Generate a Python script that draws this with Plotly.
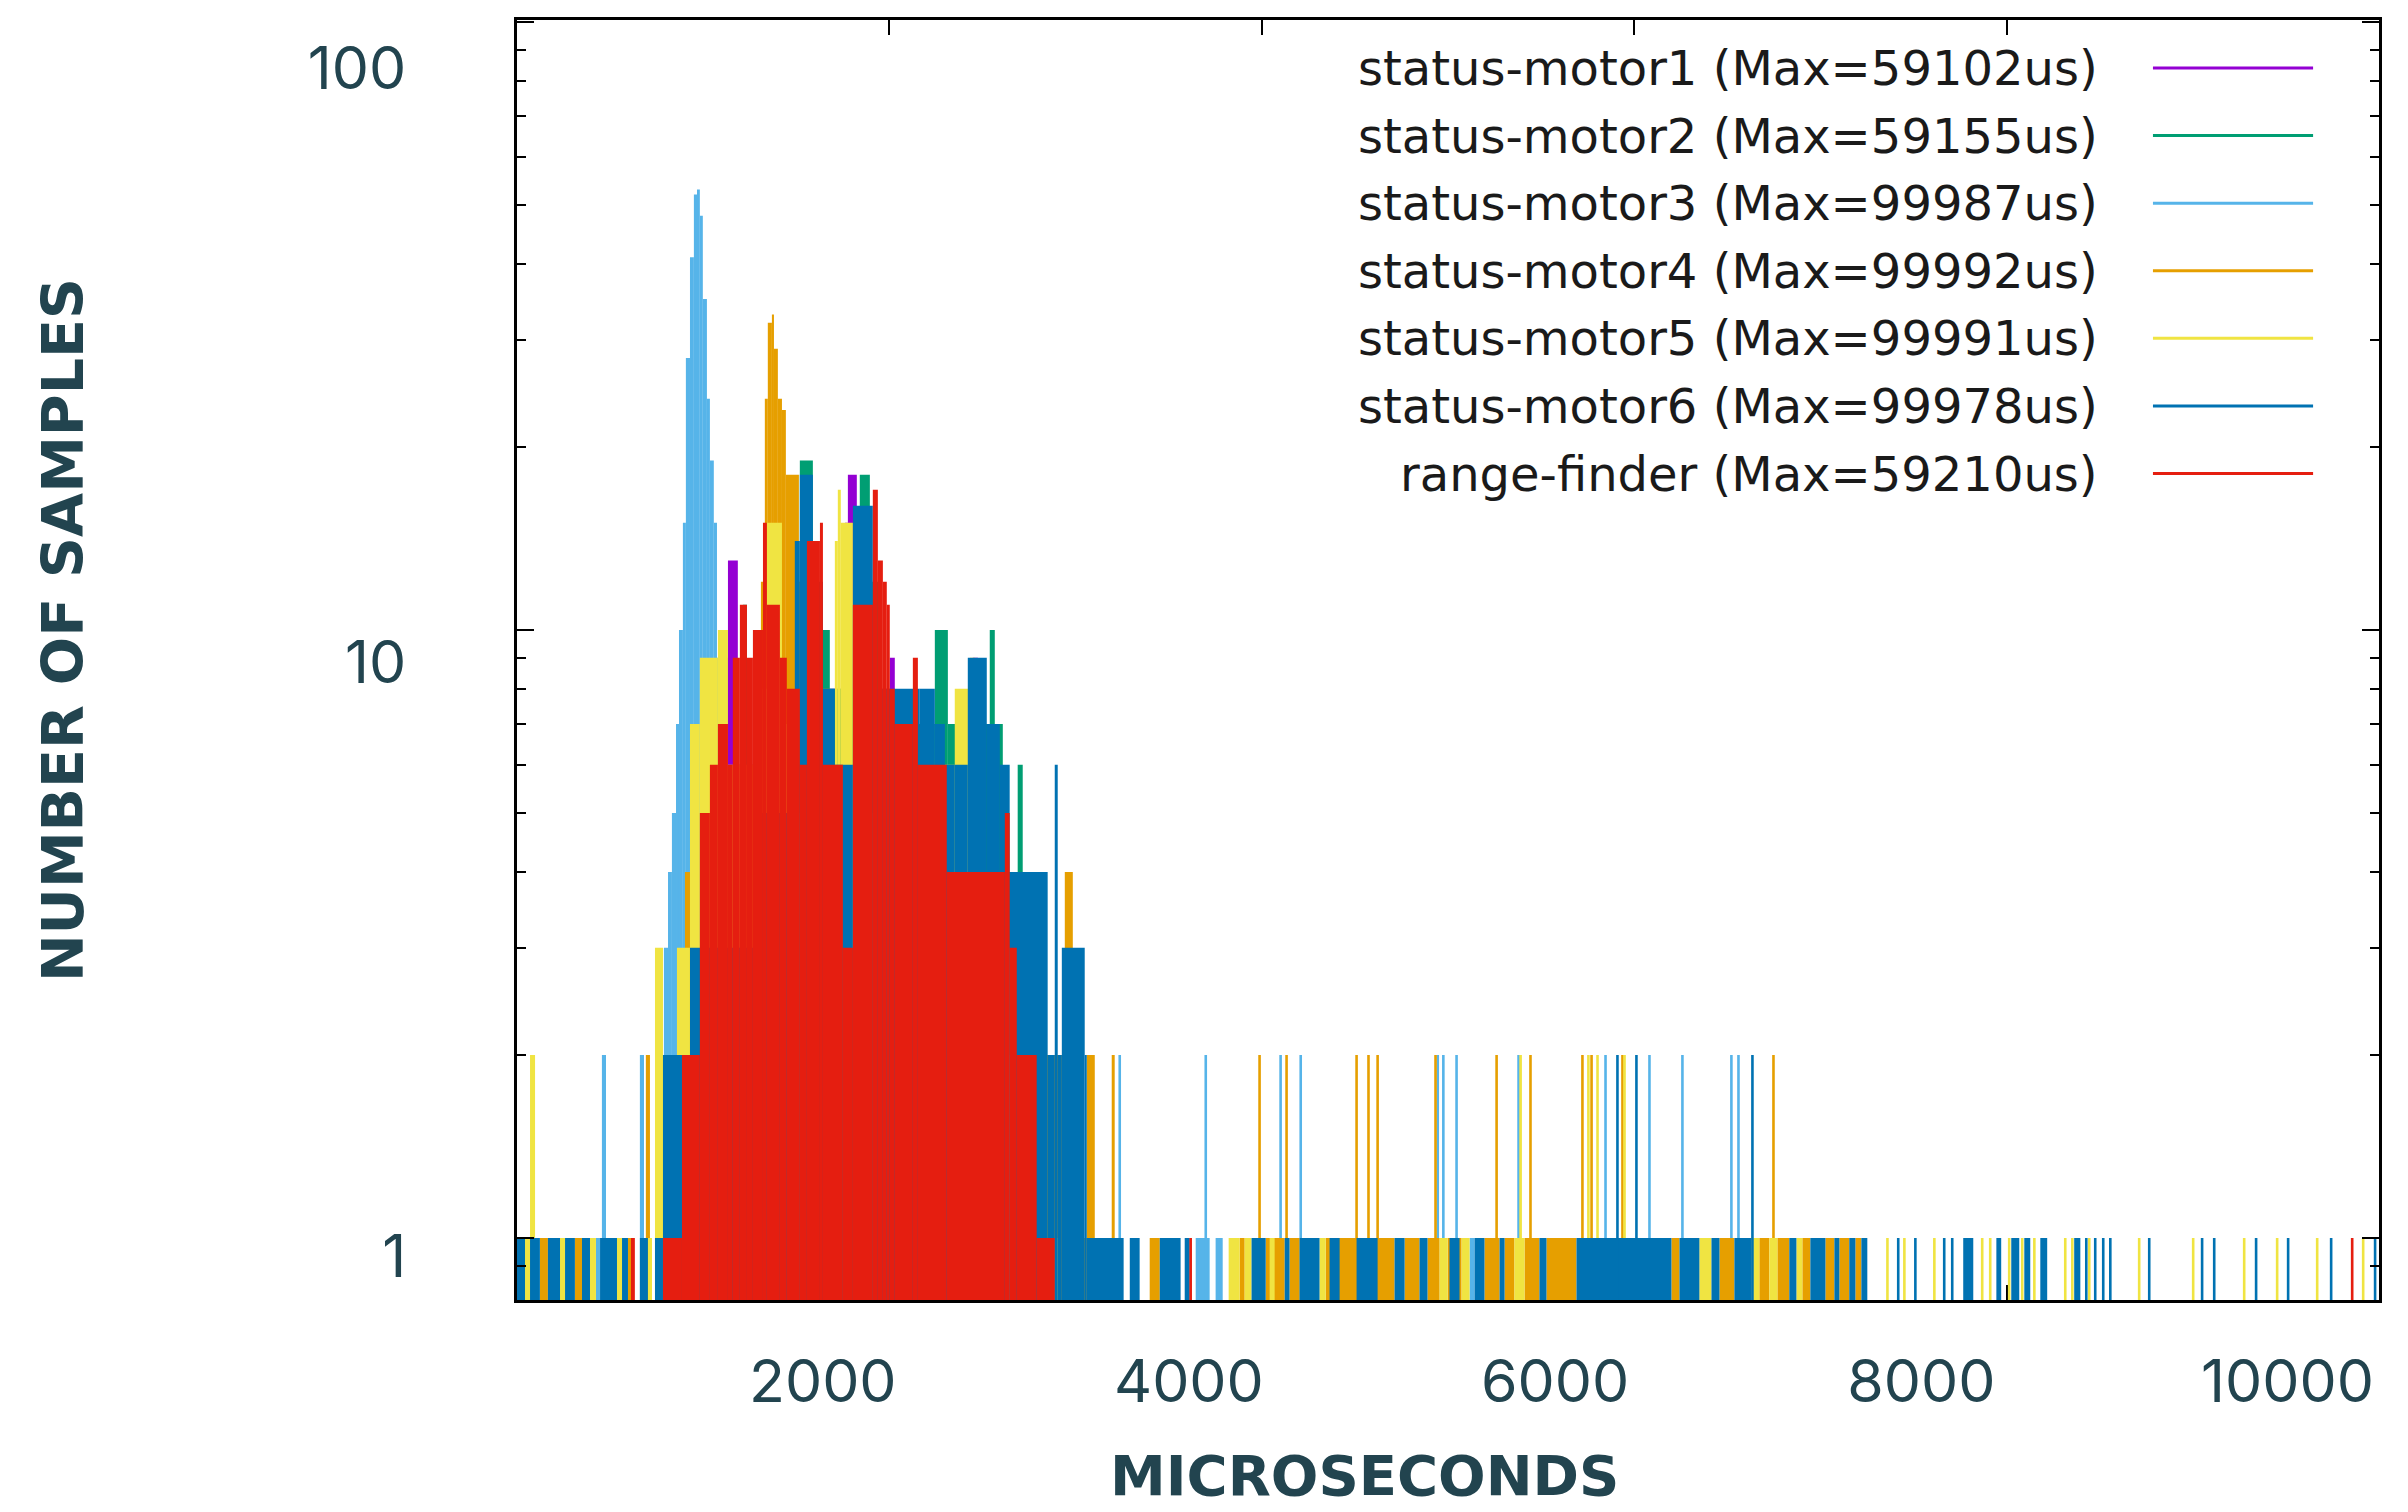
import plotly.graph_objects as go

# ---------------- series names / colours ----------------
series_names = [
    "status-motor1 (Max=59102us)",
    "status-motor2 (Max=59155us)",
    "status-motor3 (Max=99987us)",
    "status-motor4 (Max=99992us)",
    "status-motor5 (Max=99991us)",
    "status-motor6 (Max=99978us)",
    "range-finder (Max=59210us)",
]
series_colors = ["#9400d3", "#009e73", "#56b4e9", "#e69f00", "#f0e442", "#0072b2", "#e51e10"]

# ---------------- histogram data (bin start us, bin end us, count) ----------------
m1_lo = [1090, 1133, 1186, 1519, 1761, 1777, 1825, 2002, 2029, 2448, 2475, 2700]
m1_hi = [1133, 1186, 1519, 1761, 1777, 1825, 2002, 2029, 2378, 2475, 2700, 2807]
m1_n = [9, 13, 6, 8, 15, 18, 8, 9, 5, 9, 3, 1]

m2_lo = [1213, 1235, 1519, 1589, 1680, 1841, 1895, 1949, 2244, 2314, 2539, 2566, 2609, 2689, 2716, 2807]
m2_hi = [1235, 1519, 1589, 1680, 1841, 1895, 1949, 2244, 2314, 2539, 2566, 2609, 2689, 2716, 2807, 3022]
m2_n = [11, 6, 19, 10, 8, 18, 12, 7, 10, 7, 10, 7, 4, 6, 2, 1]

m3_lo = [424, 456, 660, 768, 789, 811, 832, 854, 870, 891, 907, 929, 950, 972, 982, 998, 1020, 1036,
         1057, 1074, 1117, 1197, 1304, 1519, 3645, 3752, 5116]
m3_hi = [446, 478, 682, 789, 811, 832, 854, 870, 891, 907, 929, 950, 972, 982, 998, 1020, 1036, 1057,
         1074, 1117, 1197, 1304, 1519, 1788, 3720, 3790, 5143]
m3_n = [1, 2, 2, 2, 3, 4, 5, 7, 10, 15, 28, 41, 52, 53, 48, 35, 24, 19, 15, 9, 5, 3, 2, 1, 1, 1, 1]
m3_spike_x = [3237, 3699, 4101, 4209, 4945, 4975, 5046, 5379, 5846, 6082, 6259, 6522, 6560]
m3_spike_n = [2, 2, 2, 2, 2, 2, 2, 2, 2, 2, 2, 2, 2]

m4_lo = [123, 311, 596, 692, 902, 929, 1224, 1278, 1310, 1331, 1347, 1369, 1380, 1401, 1423, 1444, 1514,
         1573, 1680, 1895, 2163, 2539, 2807, 2942, 2985, 3060, 3103, 3194, 3398, 3881, 4021, 4149, 4343,
         4622, 4767, 4890, 4998, 5196, 5304, 5411, 5529, 6200, 6458, 6672, 6769, 6903, 7027, 7102, 7188]
m4_hi = [166, 349, 628, 714, 929, 1224, 1278, 1310, 1331, 1347, 1369, 1380, 1401, 1423, 1444, 1514, 1573,
         1680, 1895, 2163, 2539, 2807, 2942, 2985, 3060, 3103, 3194, 3210, 3452, 3908, 4123, 4203, 4509,
         4713, 4847, 4955, 5073, 5277, 5357, 5491, 5690, 6243, 6538, 6726, 6833, 6946, 7075, 7155, 7220]
m4_n = [1, 1, 1, 2, 4, 3, 5, 6, 12, 24, 32, 33, 29, 24, 23, 18, 12, 8, 6, 5, 4, 3, 2, 4, 1, 2, 1, 2,
        1, 1, 1, 1, 1, 1, 1, 1, 1, 1, 1, 1, 1, 1, 1, 1, 1, 1, 1, 1, 1]
m4_spike_x = [3988, 4133, 4509, 4573, 4622, 4933, 5261, 5443, 5722, 5771, 5937, 6748]
m4_spike_n = [2, 2, 2, 2, 2, 2, 2, 2, 2, 2, 2, 2]

m5_lo = [43, 70, 231, 392, 537, 703, 741, 784, 859, 929, 982, 1079, 1133, 1304, 1342, 1423, 1449, 1707,
         1723, 1739, 1804, 2298, 2351, 2432, 2459, 2593, 2807, 3822, 3908, 4042, 4310, 4955, 5073, 5357,
         6350, 6629, 6726, 6871]
m5_hi = [70, 97, 258, 424, 564, 725, 784, 859, 929, 982, 1079, 1133, 1304, 1342, 1423, 1449, 1707, 1723,
         1739, 1804, 2298, 2351, 2432, 2459, 2593, 2807, 2915, 3881, 3945, 4069, 4343, 4998, 5116, 5411,
         6415, 6672, 6769, 6903]
m5_n = [1, 2, 1, 1, 1, 1, 3, 2, 3, 7, 9, 10, 6, 8, 15, 7, 5, 14, 17, 15, 5, 6, 8, 9, 4, 2, 1, 1, 1, 1,
        1, 1, 1, 1, 1, 1, 1, 1]
m5_spike_x = [5390, 5754, 5803, 5948, 7360, 7451, 7612, 7869, 7912, 8014, 8084, 8149, 8315, 8353, 8444,
              8712, 9002, 9276, 9453, 9668, 9915]
m5_spike_n = [2, 2, 2, 2, 1, 1, 1, 1, 1, 1, 1, 1, 1, 1, 1, 1, 1, 1, 1, 1, 1]

m6_lo = [0, 70, 166, 258, 349, 446, 564, 660, 741, 784, 929, 1304, 1492, 1519, 1589, 1643, 1707, 1750,
         1804, 1911, 2163, 2244, 2298, 2351, 2421, 2523, 2593, 2646, 2850, 2888, 2904, 2926, 3049, 3060,
         3291, 3452, 3586, 3945, 4123, 4203, 4364, 4509, 4713, 4847, 5008, 5143, 5277, 5491, 5690, 6243,
         6415, 6538, 6833, 6946, 7075, 7155, 7220, 7767, 7945, 8025, 8095, 8181, 8363]
m6_hi = [43, 123, 231, 311, 392, 537, 596, 703, 784, 929, 1304, 1492, 1519, 1589, 1643, 1707, 1750, 1804,
         1911, 2163, 2244, 2298, 2351, 2421, 2523, 2593, 2646, 2850, 2888, 2904, 2926, 3049, 3060, 3258,
         3344, 3564, 3613, 4021, 4149, 4310, 4418, 4622, 4767, 4890, 5062, 5196, 5304, 5529, 6200, 6350,
         6458, 6629, 6871, 7027, 7102, 7188, 7252, 7821, 7971, 8068, 8127, 8218, 8396]
m6_n = [1, 1, 1, 1, 1, 1, 1, 1, 1, 2, 3, 5, 14, 18, 12, 8, 6, 6, 16, 8, 8, 7, 6, 6, 9, 7, 6, 4, 2, 6,
        2, 3, 2, 1, 1, 1, 1, 1, 1, 1, 1, 1, 1, 1, 1, 1, 1, 1, 1, 1, 1, 1, 1, 1, 1, 1, 1, 1, 1, 1, 1, 1, 1]
m6_spike_x = [5910, 6012, 6635, 7418, 7510, 7665, 7708, 8428, 8476, 8519, 8557, 8766, 9050, 9115, 9340,
              9512, 9743, 9979]
m6_spike_n = [2, 2, 2, 1, 1, 1, 1, 1, 1, 1, 1, 1, 1, 1, 1, 1, 1, 1]

rf_lo = [612, 784, 886, 982, 1036, 1079, 1133, 1159, 1197, 1235, 1267, 1321, 1342, 1412, 1449, 1519, 1557,
         1627, 1643, 1750, 1804, 1911, 1938, 1965, 1986, 2002, 2029, 2126, 2153, 2308, 2620, 2646, 2684, 2791]
rf_hi = [633, 886, 982, 1036, 1079, 1133, 1159, 1197, 1235, 1267, 1321, 1342, 1412, 1449, 1519, 1557, 1627,
         1643, 1750, 1804, 1911, 1938, 1965, 1986, 2002, 2029, 2126, 2153, 2308, 2620, 2646, 2684, 2791, 2888]
rf_n = [1, 1, 2, 5, 6, 7, 6, 9, 11, 9, 10, 15, 11, 9, 8, 6, 14, 15, 6, 3, 11, 17, 13, 12, 11, 8, 7, 9, 6,
        4, 5, 3, 2, 1]
rf_spike_x = [3618, 9856]
rf_spike_n = [1, 1]

# ---------------- axis tick values / labels ----------------
x_tick_vals = [2000, 4000, 6000, 8000, 10000]
x_tick_text = ["2000", "4000", "6000", "8000", "10000"]
y_tick_vals = [1, 10, 100]
y_tick_text = ["1", "10", "100"]
y_minor_vals = [0.9, 2, 3, 4, 5, 6, 7, 8, 9, 20, 30, 40, 50, 60, 70, 80, 90]

SPIKE_W = 14
LABEL_COLOR = "#22444f"

series = [
    (m1_lo, m1_hi, m1_n, None, None),
    (m2_lo, m2_hi, m2_n, None, None),
    (m3_lo, m3_hi, m3_n, m3_spike_x, m3_spike_n),
    (m4_lo, m4_hi, m4_n, m4_spike_x, m4_spike_n),
    (m5_lo, m5_hi, m5_n, m5_spike_x, m5_spike_n),
    (m6_lo, m6_hi, m6_n, m6_spike_x, m6_spike_n),
    (rf_lo, rf_hi, rf_n, rf_spike_x, rf_spike_n),
]

fig = go.Figure()
for i, (lo, hi, n, sx, sn) in enumerate(series):
    fig.add_trace(go.Bar(
        x=lo, y=n, width=[h - l for l, h in zip(lo, hi)], offset=0,
        marker=dict(color=series_colors[i], line=dict(width=0)),
        name=series_names[i], showlegend=False, hoverinfo="skip"))
    if sx:
        fig.add_trace(go.Bar(
            x=sx, y=sn, width=SPIKE_W,
            marker=dict(color=series_colors[i], line=dict(width=0)),
            name=series_names[i], showlegend=False, hoverinfo="skip"))

# empty trace so the label-only overlay axes are created
fig.add_trace(go.Scatter(x=[None], y=[None], xaxis="x2", yaxis="y2",
                         showlegend=False, hoverinfo="skip", mode="markers"))

fig.update_layout(
    width=2408, height=1512,
    margin=dict(l=517, r=29, t=20, b=212),
    paper_bgcolor="white", plot_bgcolor="white",
    barmode="overlay", showlegend=False,
    xaxis=dict(range=[0, 10000], tickvals=x_tick_vals[:-1], ticks="inside", ticklen=15, tickwidth=2,
               tickcolor="black", showticklabels=False, showline=True, linewidth=3, linecolor="black",
               mirror="ticks", showgrid=False, zeroline=False, layer="below traces", fixedrange=True),
    yaxis=dict(type="log", range=[-0.102, 2.003], tickvals=y_tick_vals, ticks="inside", ticklen=17,
               tickwidth=2, tickcolor="black", showticklabels=False, showline=True, linewidth=3,
               linecolor="black", mirror="ticks", showgrid=False, zeroline=False,
               minor=dict(tickvals=y_minor_vals, ticks="inside", ticklen=9, tickwidth=2, tickcolor="black")),
    xaxis2=dict(overlaying="x", anchor="y2", side="bottom", range=[330, 10500],
                tickvals=x_tick_vals, ticktext=x_tick_text, ticks="outside", ticklen=30,
                tickcolor="rgba(0,0,0,0)", showline=False, showgrid=False, zeroline=False,
                tickfont=dict(family="Inter", size=59, color=LABEL_COLOR)),
    yaxis2=dict(overlaying="y", anchor="x2", side="left", type="log", range=[-0.074, 2.081],
                tickvals=y_tick_vals, ticktext=y_tick_text, ticks="outside", ticklen=98,
                tickcolor="rgba(0,0,0,0)", showline=False, showgrid=False, zeroline=False,
                tickfont=dict(family="Inter", size=59, color=LABEL_COLOR)),
)

# gnuplot-style legend: text on the left, line sample on the right
LEG_X = 0.8502
LEG_Y0 = 0.9625
LEG_DY = 0.0528
annotations = []
shapes = []
for i, name in enumerate(series_names):
    yy = LEG_Y0 - i * LEG_DY
    annotations.append(dict(x=LEG_X, y=yy, xref="paper", yref="paper", text=name,
                            xanchor="right", yanchor="middle", showarrow=False,
                            font=dict(family="DejaVu Sans", size=48, color="#1a1a1a")))
    shapes.append(dict(type="line", xref="paper", yref="paper", x0=0.8786, x1=0.9646, y0=yy, y1=yy,
                       line=dict(color=series_colors[i], width=3)))

annotations.append(dict(x=0.4554, y=-0.137, xref="paper", yref="paper", text="<b>MICROSECONDS</b>",
                        xanchor="center", yanchor="middle", showarrow=False,
                        font=dict(family="DejaVu Sans", size=56, color=LABEL_COLOR)))
annotations.append(dict(x=-0.2438, y=0.5234, xref="paper", yref="paper", text="<b>NUMBER OF SAMPLES</b>",
                        xanchor="center", yanchor="middle", showarrow=False, textangle=-90,
                        font=dict(family="DejaVu Sans", size=57, color=LABEL_COLOR)))

fig.update_layout(annotations=annotations, shapes=shapes)

fig.write_html("out.html")
